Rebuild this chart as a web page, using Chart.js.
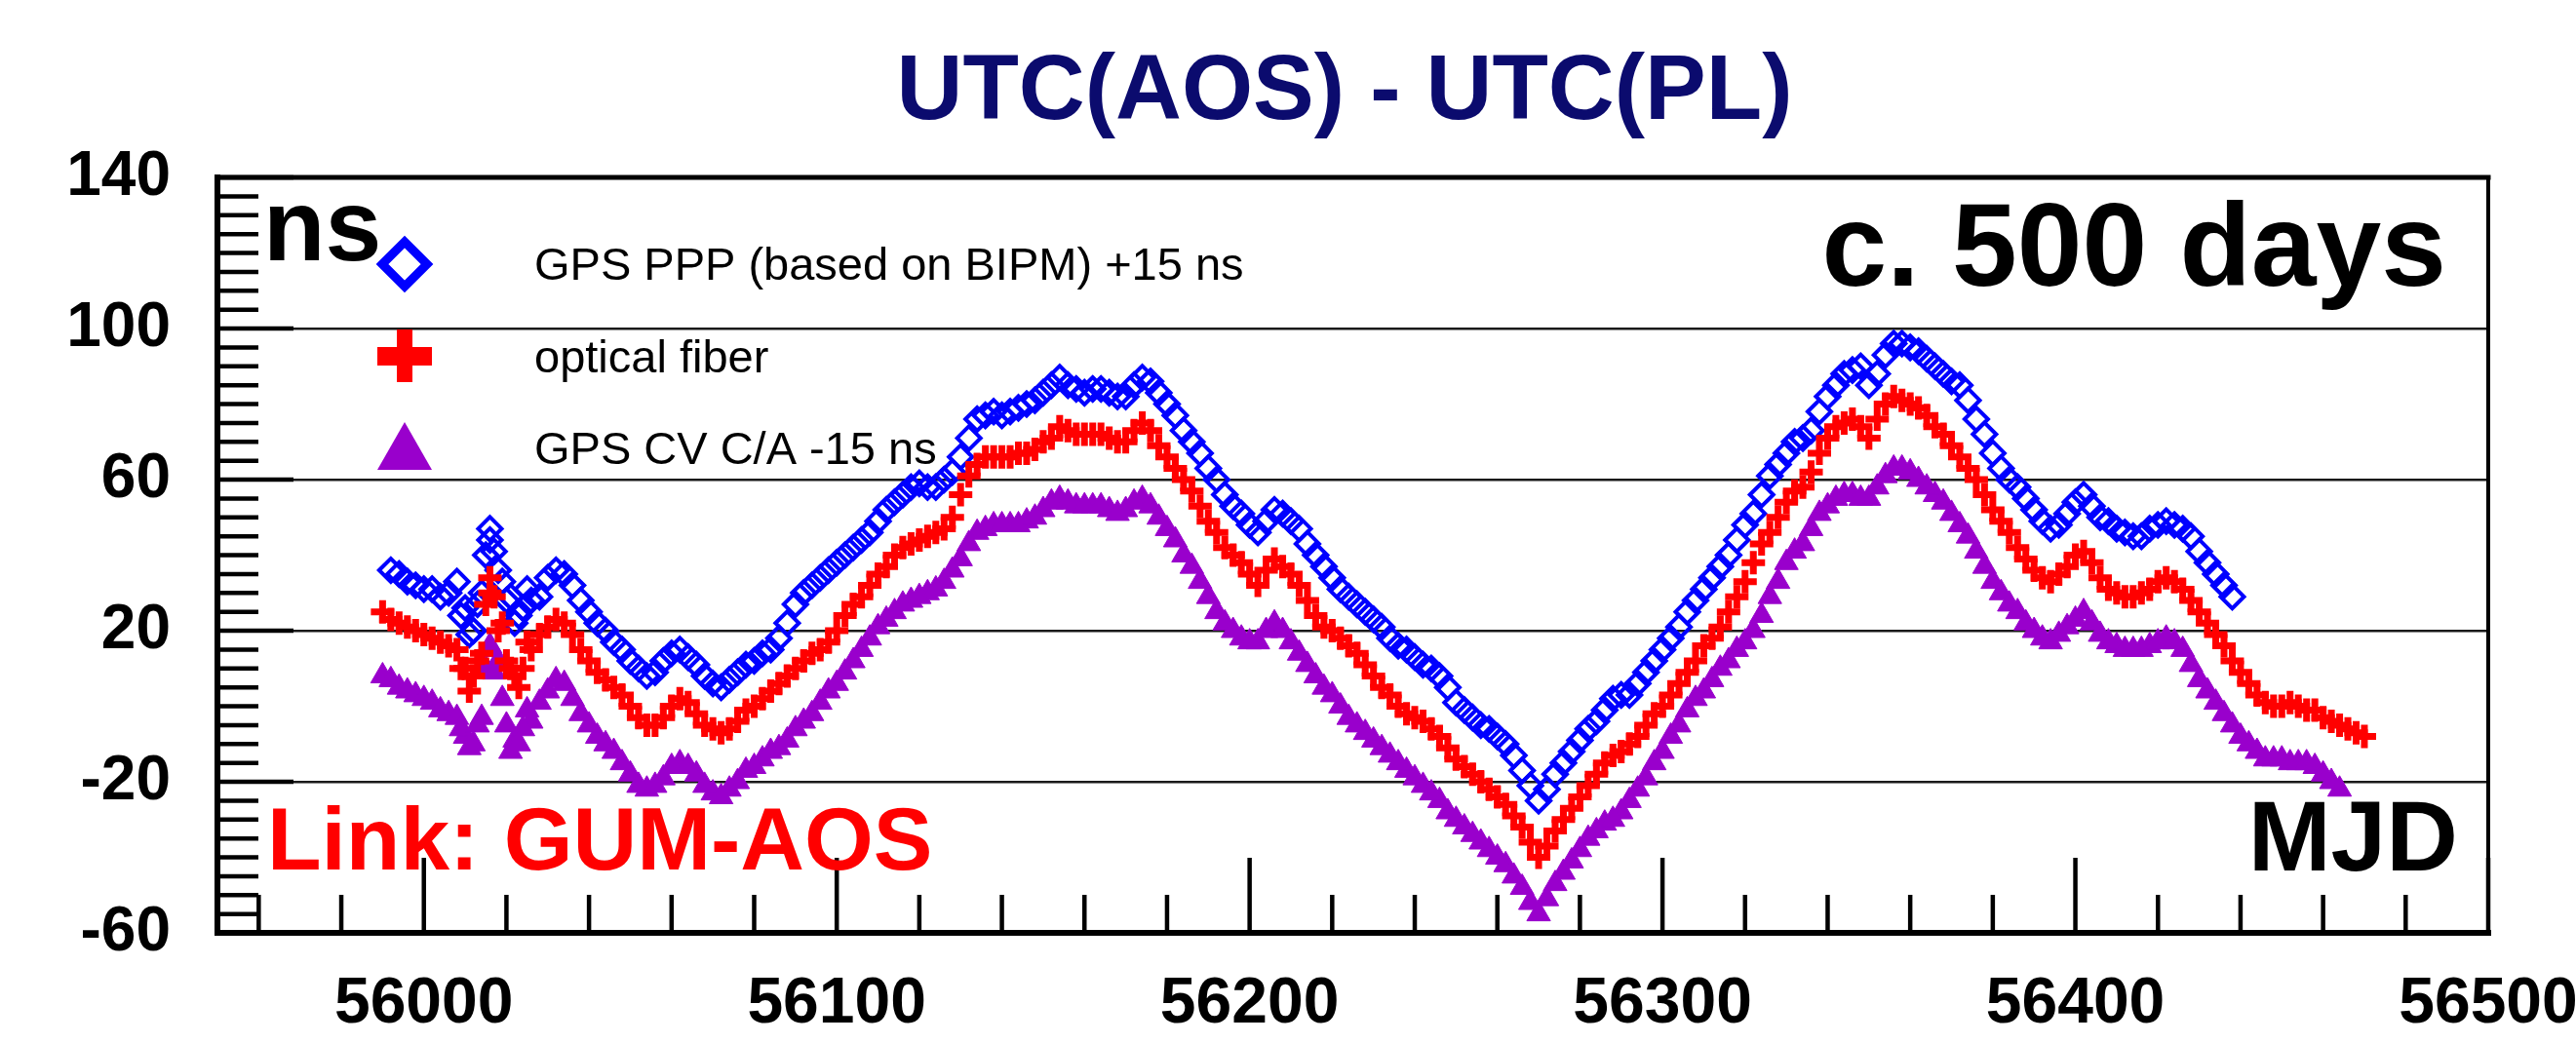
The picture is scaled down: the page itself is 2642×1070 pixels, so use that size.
<!DOCTYPE html>
<html>
<head>
<meta charset="utf-8">
<script src="https://cdn.jsdelivr.net/npm/chart.js@4.4.1/dist/chart.umd.min.js"></script>
<style>
html,body{margin:0;padding:0;background:#fff;}
#wrap{width:2642px;height:1070px;position:relative;}
</style>
</head>
<body>
<div id="wrap"><canvas id="c" width="2642" height="1070"></canvas></div>
<script>
// ---------- DATA ----------
const mjd = [55990,55994,55998,56002,56006,56010,56014,56018,56022,56026,
56030,56034,56038,56042,56046,56050,56054,56058,56062,56066,
56070,56074,56078,56082,56086,56090,56094,56098,56102,56106,
56110,56114,56118,56122,56126,56130,56134,56138,56142,56146,
56150,56154,56158,56162,56166,56170,56174,56178,56182,56186,
56190,56194,56198,56202,56206,56210,56214,56218,56222,56226,
56230,56234,56238,56242,56246,56250,56254,56258,56262,56266,
56270,56274,56278,56282,56286,56290,56294,56298,56302,56306,
56310,56314,56318,56322,56326,56330,56334,56338,56342,56346,
56350,56354,56358,56362,56366,56370,56374,56378,56382,56386,
56390,56394,56398,56402,56406,56410,56414,56418,56422,56426,
56430,56434,56438,56442,56446,56450,56454,56458,56462,56466,
56470];

// GPS PPP (based on BIPM) +15 ns
const pppPlus15 = [null,35,32,31,30,26,30,36,22,28,
34,35,28,22,17,12,8,12,15,11,
6,7,11,14,18,27,32,36,40,44,
49,54,58,58,60,66,76,78,78,80,
83,87,84,84,83,82,87,83,77,70,
63,56,51,46,52,49,43,37,31,27,
23,18,15,11,8,1,-3,-6,-10,-17,
-25,-18,-12,-6,-1,3,6,12,18,25,
31,37,44,51,61,67,71,78,85,89,
85,93,96,94,90,86,81,72,63,58,
52,47,51,56,50,47,45,47,49,47,
41,35,29,null,null,null,null,null,null,null,
null];

// optical fiber
const fiber = [25,22,20,18,16,10,14,20,8,15,
21,22,15,9,5,0,-5,-3,2,-2,
-6,-6,-1,2,6,10,14,17,24,29,
35,40,43,45,47,56,64,66,66,67,
70,74,72,72,71,70,75,69,63,57,
49,42,38,32,39,35,28,21,18,14,
8,3,-2,-4,-8,-14,-18,-22,-26,-32,
-40,-33,-27,-21,-15,-12,-8,-2,3,9,
16,21,29,38,46,54,58,67,74,76,
71,80,81,79,74,69,63,56,49,42,
36,33,37,41,34,30,29,31,34,31,
25,19,12,6,1,0,0,-1,-4,-6,
-8];

// GPS CV C/A -15 ns
const cvMinus15 = [8,5,3,1,-2,-8,-3,12,-9,-4,
4,6,-2,-8,-12,-18,-22,-19,-15,-18,
-23,-22,-17,-14,-11,-6,-2,4,9,15,
21,25,28,30,33,39,46,48,48,49,
52,55,53,53,52,52,55,50,44,37,
29,22,18,17,22,17,11,5,0,-5,
-9,-13,-17,-21,-25,-30,-34,-38,-42,-48,
-55,-47,-41,-35,-31,-28,-22,-15,-8,-1,
4,10,15,20,29,38,43,51,55,56,
55,61,63,60,56,51,45,37,30,25,
20,17,21,25,19,16,15,16,18,15,
7,1,-5,-10,-14,-14,-15,-16,-20,null,
null];

// readings taken between the days above
const mjdMid = [55992,55996,56000,56004,56008,56012,56016,56020,56024,56028,
56032,56036,56040,56044,56048,56052,56056,56060,56064,56068,
56072,56076,56080,56084,56088,56092,56096,56100,56104,56108,
56112,56116,56120,56124,56128,56132,56136,56140,56144,56148,
56152,56156,56160,56164,56168,56172,56176,56180,56184,56188,
56192,56196,56200,56204,56208,56212,56216,56220,56224,56228,
56232,56236,56240,56244,56248,56252,56256,56260,56264,56268,
56272,56276,56280,56284,56288,56292,56296,56300,56304,56308,
56312,56316,56320,56324,56328,56332,56336,56340,56344,56348,
56352,56356,56360,56364,56368,56372,56376,56380,56384,56388,
56392,56396,56400,56404,56408,56412,56416,56420,56424,56428,
56432,56436,56440,56444,56448,56452,56456,56460,56464,56468];

const pppMid = [36,33,31,29,33,20,44,28,26,29,
36,32,25,20,15,10,9,14,13,8,
5,9,12,15,22,30,34,38,42,46,
52,56,59,58,62,71,77,77,79,81,
85,85,83,84,82,85,86,80,73,67,
60,53,48,49,51,47,40,34,29,25,
21,16,13,10,5,-1,-5,-8,-13,-21,
-22,-15,-9,-4,2,3,9,15,21,28,
34,40,48,56,64,70,73,82,88,90,
88,96,95,92,88,85,76,67,60,55,
49,48,54,53,49,46,45,48,48,45,
38,32,null,null,null,null,null,null,null,null];

const fiberMid = [23,21,19,17,15,8,30,12,10,19,
23,19,12,7,3,-3,-5,0,1,-5,
-7,-4,0,4,8,12,15,20,27,32,
37,42,44,46,50,61,66,66,67,68,
71,73,72,72,70,73,73,66,60,53,
46,40,35,36,37,32,24,20,16,11,
5,0,-3,-6,-11,-16,-20,-24,-29,-36,
-37,-30,-24,-18,-13,-10,-5,0,6,12,
18,25,33,43,50,57,62,71,75,74,
76,82,80,77,72,66,60,52,46,39,
34,35,40,38,31,29,30,33,33,28,
22,16,9,3,0,1,-1,-3,-5,-7];

const cvMid = [7,4,2,-1,-3,-10,15,-5,-6,1,
7,2,-5,-10,-15,-21,-21,-16,-16,-21,
-24,-20,-16,-12,-9,-4,1,6,12,18,
23,27,29,31,36,43,47,48,48,50,
54,54,53,53,51,54,53,47,40,33,
25,20,17,20,20,14,8,3,-3,-7,
-11,-15,-19,-23,-28,-32,-36,-40,-45,-52,
-51,-44,-38,-33,-30,-25,-19,-12,-5,2,
7,12,17,24,33,41,47,53,56,55,
58,63,62,58,54,48,41,33,27,22,
18,19,23,22,17,15,15,17,17,11,
4,-2,-8,-12,-14,-15,-15,-18,-22,null];

// scattered points in the noisy stretch near the start
const scatterMjd   = [56009,56011,56013,56015,56016,56017,56019,56021,56023,56025];
const pppScatter   = [24,19,27,40,47,41,33,29,24,31];
const fiberScatter = [10,4,12,27,34,29,22,10,5,17];
const cvScatter    = [-6,-11,-5,10,16,9,2,-12,-10,-1];

const seriesLabels = ['GPS PPP (based on BIPM) +15 ns', 'optical fiber', 'GPS CV C/A -15 ns'];
const xTickLabels = [56000, 56100, 56200, 56300, 56400, 56500];
const yTickLabels = [140, 100, 60, 20, -20, -60];
const yGridValues = [100, 60, 20, -20];

// ---------- CHART ----------
const FONT = '"Liberation Sans", Arial, Helvetica, sans-serif';
const BLUE = '#0000ff', RED = '#ff0000', PURPLE = '#9900cc', NAVY = '#0b0b6e';

function pts(xs, ys) {
  const out = [];
  for (let i = 0; i < xs.length; i++) if (ys[i] !== null) out.push({x: xs[i], y: ys[i]});
  return out;
}

const decor = {
  id: 'decor',
  beforeDatasetsDraw(chart) {
    const {ctx, chartArea: a, scales: {x, y}} = chart;
    ctx.save();
    ctx.strokeStyle = '#000';
    ctx.lineCap = 'butt';
    ctx.lineWidth = 4.5;
    y.ticks.forEach(t => {
      const py = y.getPixelForValue(t.value);
      const len = yTickLabels.includes(t.value) ? 78 : 42;
      ctx.beginPath(); ctx.moveTo(a.left, py); ctx.lineTo(a.left + len, py); ctx.stroke();
    });
    x.ticks.forEach(t => {
      const px = x.getPixelForValue(t.value);
      const len = xTickLabels.includes(t.value) ? 77 : 39;
      ctx.beginPath(); ctx.moveTo(px, a.bottom); ctx.lineTo(px, a.bottom - len); ctx.stroke();
    });
    // frame
    ctx.lineCap = 'square';
    ctx.lineWidth = 6;
    ctx.beginPath(); ctx.moveTo(a.left, a.top); ctx.lineTo(a.left, a.bottom); ctx.stroke();
    ctx.beginPath(); ctx.moveTo(a.left, a.bottom); ctx.lineTo(a.right, a.bottom); ctx.stroke();
    ctx.lineWidth = 5;
    ctx.beginPath(); ctx.moveTo(a.left, a.top); ctx.lineTo(a.right, a.top); ctx.stroke();
    ctx.lineWidth = 4;
    ctx.beginPath(); ctx.moveTo(a.right, a.top); ctx.lineTo(a.right, a.bottom); ctx.stroke();
    ctx.restore();
  },
  afterDraw(chart) {
    const {ctx} = chart;
    ctx.save();
    ctx.textBaseline = 'alphabetic';
    // title
    ctx.fillStyle = NAVY;
    ctx.textAlign = 'center';
    ctx.font = 'bold 94px ' + FONT;
    ctx.fillText('UTC(AOS) - UTC(PL)', 1379, 122);
    // corner texts
    ctx.fillStyle = '#000';
    ctx.textAlign = 'left';
    ctx.font = 'bold 104px ' + FONT;
    ctx.fillText('ns', 270, 267);
    ctx.textAlign = 'right';
    ctx.font = 'bold 120px ' + FONT;
    ctx.fillText('c. 500 days', 2509, 293);
    ctx.font = 'bold 102px ' + FONT;
    ctx.fillText('MJD', 2521, 893);
    ctx.textAlign = 'left';
    ctx.fillStyle = RED;
    ctx.font = 'bold 91px ' + FONT;
    ctx.fillText('Link: GUM-AOS', 274, 892);

    // legend
    const lx = 415;
    ctx.strokeStyle = BLUE; ctx.lineWidth = 9; ctx.lineJoin = 'miter';
    ctx.beginPath();
    ctx.moveTo(lx - 23, 271); ctx.lineTo(lx, 248); ctx.lineTo(lx + 23, 271); ctx.lineTo(lx, 294); ctx.closePath();
    ctx.stroke();
    ctx.fillStyle = RED;
    ctx.fillRect(lx - 28, 356, 56, 19);
    ctx.fillRect(lx - 8, 338, 16, 54);
    ctx.fillStyle = PURPLE;
    ctx.beginPath(); ctx.moveTo(lx, 433); ctx.lineTo(lx + 28, 482); ctx.lineTo(lx - 28, 482); ctx.closePath(); ctx.fill();
    ctx.fillStyle = '#000';
    ctx.font = '47px ' + FONT;
    ctx.fillText(seriesLabels[0], 548, 287);
    ctx.fillText(seriesLabels[1], 548, 382);
    ctx.fillText(seriesLabels[2], 548, 476);
    ctx.restore();
  }
};

new Chart(document.getElementById('c'), {
  type: 'scatter',
  data: {
    datasets: [
      {
        label: seriesLabels[0],
        data: pts(mjd, pppPlus15).concat(pts(mjdMid, pppMid), pts(scatterMjd, pppScatter)),
        pointStyle: 'rectRot', pointRadius: 12,
        pointBorderColor: BLUE, pointBackgroundColor: 'rgba(255,255,255,0)', pointBorderWidth: 4,
        showLine: false, order: 1
      },
      {
        label: seriesLabels[1],
        data: pts(mjd, fiber).concat(pts(mjdMid, fiberMid), pts(scatterMjd, fiberScatter)),
        pointStyle: 'cross', pointRadius: 12,
        pointBorderColor: RED, pointBackgroundColor: RED, pointBorderWidth: 7,
        showLine: false, order: 0
      },
      {
        label: seriesLabels[2],
        data: pts(mjd, cvMinus15).concat(pts(mjdMid, cvMid), pts(scatterMjd, cvScatter)),
        pointStyle: 'triangle', pointRadius: 14,
        pointBorderColor: PURPLE, pointBackgroundColor: PURPLE, pointBorderWidth: 1,
        showLine: false, order: 2
      }
    ]
  },
  options: {
    responsive: false,
    animation: false,
    devicePixelRatio: 1,
    events: [],
    layout: { padding: { left: 0, top: 182, right: 90, bottom: 0 } },
    plugins: { legend: { display: false }, tooltip: { enabled: false }, title: { display: false } },
    scales: {
      x: {
        type: 'linear', min: 55950, max: 56500,
        border: { display: false },
        grid: { display: false, drawTicks: false },
        ticks: {
          stepSize: 20, includeBounds: false, autoSkip: false, maxRotation: 0,
          padding: 34, color: '#000',
          font: { family: FONT, size: 66, weight: 'bold' },
          callback: v => xTickLabels.includes(v) ? String(v) : ''
        },
        afterFit: s => { s.height = 113; s.paddingLeft = 0; s.paddingRight = 0; }
      },
      y: {
        type: 'linear', min: -60, max: 140,
        border: { display: false },
        grid: {
          drawTicks: false, lineWidth: 2.5,
          color: c => (c.tick && yGridValues.includes(c.tick.value)) ? '#1a1a1a' : 'rgba(0,0,0,0)'
        },
        ticks: {
          stepSize: 5, autoSkip: false, padding: 48, color: '#000',
          font: { family: FONT, size: 64, weight: 'bold' },
          callback: v => yTickLabels.includes(v) ? String(v) : ''
        },
        afterFit: s => { s.width = 223; s.paddingTop = 0; s.paddingBottom = 0; }
      }
    }
  },
  plugins: [decor]
});
</script>
</body>
</html>
